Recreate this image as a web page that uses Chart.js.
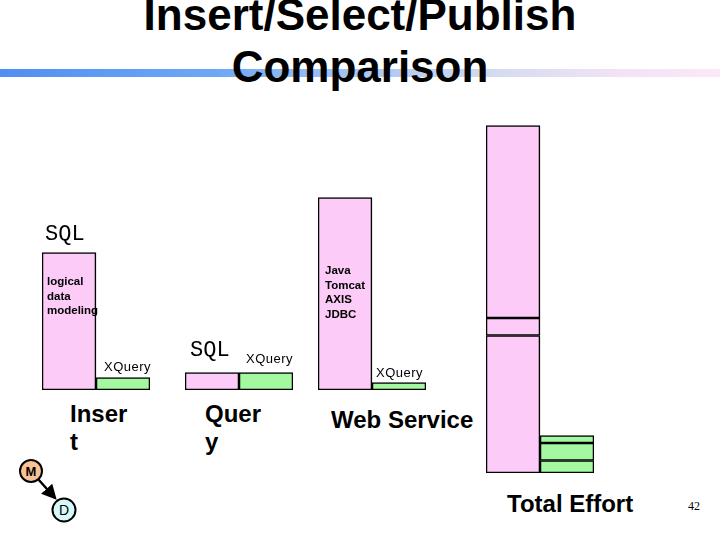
<!DOCTYPE html>
<html>
<head>
<meta charset="utf-8">
<script src="https://cdn.jsdelivr.net/npm/chart.js@4/dist/chart.umd.min.js"></script>
<style>
  html, body { margin: 0; padding: 0; background: #fff; }
  #slide { position: relative; width: 720px; height: 540px; overflow: hidden; font-family: "Liberation Sans", Arial, sans-serif; }
  .abs { position: absolute; white-space: nowrap; color: #000; }
  canvas { position: absolute; }
  #rule { position: absolute; left: 0; top: 69px; width: 720px; height: 8px;
    background: linear-gradient(to right, #4f8ff2 0%, #6ea8f5 30%, #a9c6f2 50%, #d6dcf2 70%, #f0e2f4 85%, #fce8f8 100%); }
  #title { left: 0; width: 720px; top: -11px; text-align: center; font-weight: bold; font-size: 44px; line-height: 52px; }
  .sql { font-family: "Liberation Mono", "Courier New", monospace; font-size: 22px; line-height: 22px; }
  .note { font-size: 11.5px; font-weight: bold; line-height: 14.5px; }
  .xq { font-size: 13px; line-height: 13px; letter-spacing: 0.5px; }
  .cat { font-weight: bold; font-size: 24px; line-height: 28px; }
</style>
</head>
<body>
<div id="slide">
  <div id="rule"></div>
  <div id="title" class="abs">Insert/Select/Publish<br>Comparison</div>

  <canvas id="c0" width="108" height="200" style="left:42px; top:190px"></canvas>
  <canvas id="c1" width="108" height="200" style="left:185px; top:190px"></canvas>
  <canvas id="c2" width="108" height="200" style="left:318px; top:190px"></canvas>
  <canvas id="cTotal" width="108" height="350" style="left:486px; top:123px"></canvas>

  <div class="abs sql" style="left:45px; top:224px">SQL</div>
  <div class="abs note" style="left:47px; top:274px">logical<br>data<br>modeling</div>
  <div class="abs xq" style="left:104px; top:360px">XQuery</div>

  <div class="abs sql" style="left:190px; top:340px">SQL</div>
  <div class="abs xq" style="left:246px; top:352px">XQuery</div>

  <div class="abs note" style="left:325px; top:263px">Java<br>Tomcat<br>AXIS<br>JDBC</div>
  <div class="abs xq" style="left:376px; top:366px">XQuery</div>

  <div class="abs cat" style="left:70px; top:400px">Inser<br>t</div>
  <div class="abs cat" style="left:205px; top:400px">Quer<br>y</div>
  <div class="abs cat" style="left:331px; top:406px">Web Service</div>
  <div class="abs cat" style="left:507px; top:490px">Total Effort</div>
  <div class="abs" style="left:688px; top:499px; font-family:'Liberation Serif', serif; font-size:12px; line-height:14px">42</div>

  <svg class="abs" style="left:0; top:440px" width="100" height="100">
    <defs>
      <marker id="ah" markerWidth="6" markerHeight="6" refX="5" refY="3" orient="auto">
        <path d="M0,0 L6,3 L0,6 z" fill="#000"/>
      </marker>
    </defs>
    <line x1="38" y1="39" x2="55" y2="58" stroke="#000" stroke-width="2.5" marker-end="url(#ah)"/>
    <circle cx="31" cy="31" r="11" fill="#f8c294" stroke="#000" stroke-width="2"/>
    <text x="31" y="36" text-anchor="middle" font-family="Liberation Sans" font-weight="bold" font-size="13">M</text>
    <circle cx="64" cy="70" r="11.5" fill="#d6f8f8" stroke="#000" stroke-width="2"/>
    <text x="64" y="75" text-anchor="middle" font-family="Liberation Sans" font-size="14">D</text>
  </svg>
</div>

<script>
// effort per task, same units for every bar
const groups = ['Insert', 'Query', 'Web Service'];
const sqlEffort = [55, 7, 77];
const xqueryEffort = [5, 7, 3];

const pink = '#fccbf8';
const green = '#a3f8a0';
const edge = '#000';

Chart.defaults.animation = false;
Chart.defaults.plugins.legend.display = false;
Chart.defaults.plugins.tooltip.enabled = false;

function barOpts(max, stacked) {
    return {
        responsive: false,
        animation: false,
        layout: { padding: 0 },
        scales: {
            x: { display: false, stacked: stacked },
            y: { display: false, min: 0, max: max, stacked: stacked }
        },
        plugins: { legend: { display: false }, tooltip: { enabled: false } }
    };
}

function barStyle(color) {
    return {
        backgroundColor: color,
        borderColor: edge,
        borderWidth: 1.6,
        borderSkipped: false,
        barPercentage: 1,
        categoryPercentage: 1
    };
}

groups.forEach((g, i) => {
    new Chart(document.getElementById('c' + i), {
        type: 'bar',
        data: {
            labels: [g],
            datasets: [
                Object.assign({ label: 'SQL', data: [sqlEffort[i]] }, barStyle(pink)),
                Object.assign({ label: 'XQuery', data: [xqueryEffort[i]] }, barStyle(green))
            ]
        },
        options: barOpts(80, false)
    });
});

// total effort: every task stacked, SQL and XQuery side by side
const totalSets = [];
groups.forEach((g, i) => {
    totalSets.push(Object.assign({ label: 'SQL ' + g, data: [sqlEffort[i]], stack: 'sql' }, barStyle(pink)));
});
groups.forEach((g, i) => {
    totalSets.push(Object.assign({ label: 'XQuery ' + g, data: [xqueryEffort[i]], stack: 'xquery' }, barStyle(green)));
});

new Chart(document.getElementById('cTotal'), {
    type: 'bar',
    data: { labels: ['Total Effort'], datasets: totalSets },
    options: barOpts(140, true)
});
</script>
</body>
</html>
